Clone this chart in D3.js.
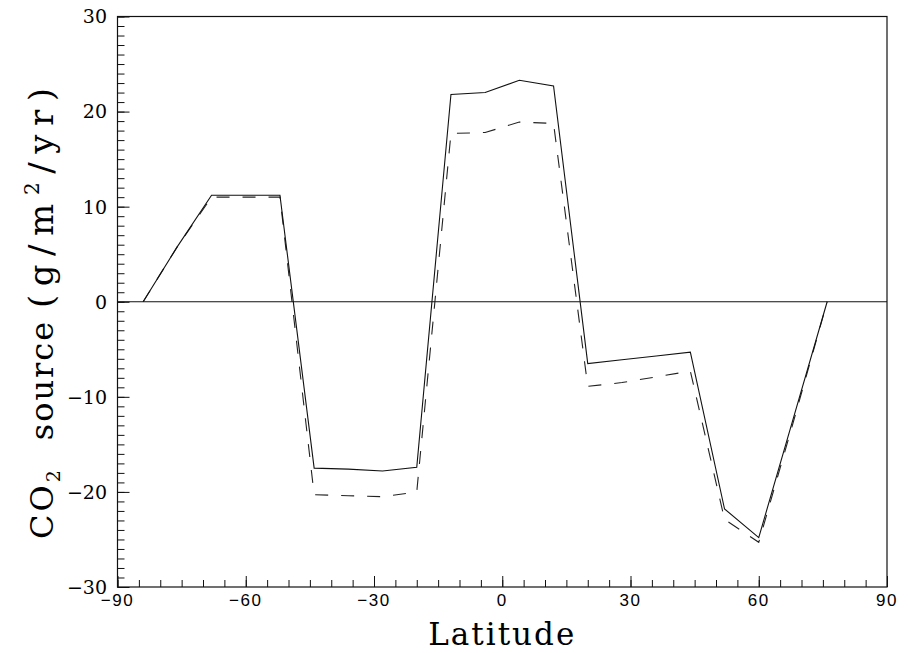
<!DOCTYPE html>
<html>
<head>
<meta charset="utf-8">
<script src="https://cdn.jsdelivr.net/npm/d3@7"></script>
<style>
  body { margin: 0; background: #fff; }
  svg { display: block; }
</style>
</head>
<body>
<div id="chart"></div>
<script>
// latitude grid (8 degree bands) and the two source curves
const latitudes = [-84, -76, -68, -60, -52, -44, -36, -28, -20, -12, -4, 4, 12, 20, 28, 36, 44, 52, 60, 68, 76];
const solidSource = [0, 5.8, 11.2, 11.2, 11.2, -17.5, -17.6, -17.8, -17.4, 21.8, 22.0, 23.3, 22.7, -6.5, -6.1, -5.7, -5.3, -21.8, -24.8, -12.4, 0];
const dashedSource = [0, 5.8, 11.0, 11.0, 11.0, -20.3, -20.4, -20.5, -20.0, 17.7, 17.8, 18.9, 18.75, -8.9, -8.5, -7.9, -7.3, -22.9, -25.3, -12.8, 0];
const xTicks = [-90, -60, -30, 0, 30, 60, 90];
const yTicks = [-30, -20, -10, 0, 10, 20, 30];

const width = 908, height = 653;
const margin = {top: 16.5, right: 21, bottom: 66, left: 117.5};

const svg = d3.select("#chart").append("svg")
    .attr("width", width)
    .attr("height", height);

const x = d3.scaleLinear().domain([-90, 90]).range([margin.left, width - margin.right]);
const y = d3.scaleLinear().domain([-30, 30]).range([height - margin.bottom, margin.top]);

const fmt = d => d < 0 ? "\u2212" + Math.abs(d) : d;

// frame
svg.append("rect")
    .attr("x", x(-90)).attr("y", y(30))
    .attr("width", x(90) - x(-90)).attr("height", y(-30) - y(30))
    .attr("fill", "none").attr("stroke", "#111").attr("stroke-width", 1.2);

// bottom axis, ticks inward
svg.append("g")
    .attr("transform", `translate(0,${y(-30)})`)
    .call(d3.axisTop(x).tickValues(d3.range(-90, 91, 5)).tickSize(7).tickFormat(""))
    .call(g => g.select(".domain").remove());
svg.append("g")
    .attr("transform", `translate(0,${y(-30)})`)
    .call(d3.axisTop(x).tickValues(xTicks).tickSize(11).tickFormat(""))
    .call(g => g.select(".domain").remove());
svg.append("g").selectAll("text")
    .data(xTicks).join("text")
    .attr("x", d => x(d))
    .attr("y", 606)
    .attr("text-anchor", "middle")
    .attr("font-family", "Liberation Sans, Arial, sans-serif")
    .attr("font-size", 17)
    .attr("letter-spacing", 1.5)
    .text(fmt);

// left axis, ticks inward
svg.append("g")
    .attr("transform", `translate(${x(-90)},0)`)
    .call(d3.axisRight(y).tickValues(d3.range(-30, 31, 1)).tickSize(7).tickFormat(""))
    .call(g => g.select(".domain").remove());
svg.append("g")
    .attr("transform", `translate(${x(-90)},0)`)
    .call(d3.axisRight(y).tickValues(yTicks).tickSize(12).tickFormat(""))
    .call(g => g.select(".domain").remove());
svg.append("g").selectAll("text")
    .data(yTicks).join("text")
    .attr("x", 107)
    .attr("y", d => y(d))
    .attr("dy", "0.36em")
    .attr("text-anchor", "end")
    .attr("font-family", "DejaVu Serif, serif")
    .attr("font-size", 19)
    .text(fmt);

svg.selectAll(".tick line").attr("stroke", "#111").attr("stroke-width", 1);

// zero line
svg.append("line")
    .attr("x1", x(-90)).attr("x2", x(90))
    .attr("y1", y(0)).attr("y2", y(0))
    .attr("stroke", "#111").attr("stroke-width", 1.2);

const line = d3.line()
    .x((d, i) => x(latitudes[i]))
    .y(d => y(d));

svg.append("path")
    .datum(dashedSource)
    .attr("d", line)
    .attr("fill", "none")
    .attr("stroke", "#222")
    .attr("stroke-width", 1.1)
    .attr("stroke-dasharray", "13,13");

svg.append("path")
    .datum(solidSource)
    .attr("d", line)
    .attr("fill", "none")
    .attr("stroke", "#111")
    .attr("stroke-width", 1.1);

// axis titles
svg.append("text")
    .attr("x", (x(-90) + x(90)) / 2)
    .attr("y", 645)
    .attr("text-anchor", "middle")
    .attr("font-family", "DejaVu Serif, serif")
    .attr("font-size", 31)
    .attr("letter-spacing", 2)
    .text("Latitude");

// y title: three pieces placed along the axis
function yTitlePiece(center, size) {
    return svg.append("text")
        .attr("transform", `translate(53,${center}) rotate(-90)`)
        .attr("text-anchor", "middle")
        .attr("font-family", "DejaVu Serif, serif")
        .attr("font-size", size);
}
const co2 = yTitlePiece(503, 32).attr("letter-spacing", 3);
co2.append("tspan").text("CO");
co2.append("tspan").attr("font-size", 19).attr("dy", 7).text("2");

yTitlePiece(380, 32).attr("letter-spacing", 2).text("source");

const units = yTitlePiece(198, 34)
    .attr("textLength", 220)
    .attr("lengthAdjust", "spacing");
units.append("tspan").text("(g/m");
units.append("tspan").attr("font-size", 20).attr("dy", -14).text("2");
units.append("tspan").attr("dy", 14).text("/yr)");
</script>
</body>
</html>
